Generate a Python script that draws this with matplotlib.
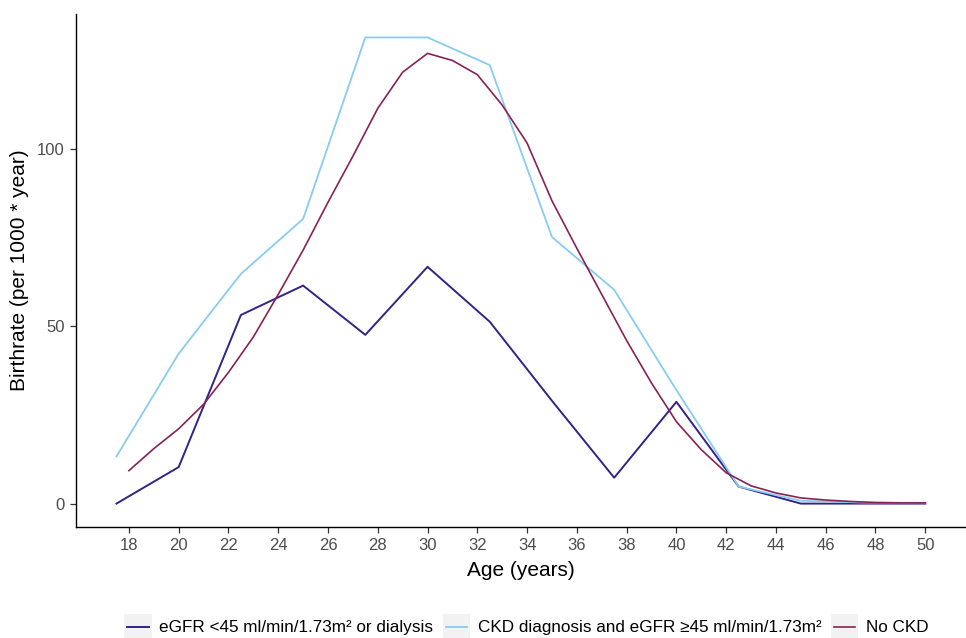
import matplotlib
matplotlib.use("Agg")
from matplotlib import pyplot as plt
from matplotlib.patches import Rectangle
from matplotlib.lines import Line2D
from matplotlib.legend_handler import HandlerBase

plt.rcParams['font.family'] = ['Liberation Sans', 'DejaVu Sans']

# eGFR <45 or dialysis
age_low = [17.5, 20, 22.5, 25, 27.5, 30, 32.5, 35, 37.5, 40, 42.5, 45, 47.5, 50]
rate_low = [0, 10.3, 53.2, 61.5, 47.6, 66.8, 51.3, 29, 7.3, 28.7, 4.8, 0, 0, 0]

# CKD diagnosis and eGFR >=45
age_ckd = [17.5, 20, 22.5, 25, 27.5, 30, 32.5, 35, 37.5, 40, 42.5, 45, 47.5, 50]
rate_ckd = [13.3, 42.3, 64.8, 80.3, 131.5, 131.5, 123.7, 75.2, 60.3, 32, 4.8, 0.8, 0.3, 0.2]

# No CKD
age_no = list(range(18, 51))
rate_no = [9.3, 15.5, 21.1, 28, 37, 47, 59, 71.5, 85, 98, 111.5, 121.7, 127, 125,
           121, 112.4, 101.7, 85.4, 72, 59, 46, 34, 23.1, 15.2, 8.7, 5, 3, 1.6,
           1.0, 0.6, 0.3, 0.2, 0.2]

labels = ['eGFR <45 ml/min/1.73m² or dialysis',
          'CKD diagnosis and eGFR ≥45 ml/min/1.73m²',
          'No CKD']
colors = ['#332288', '#88CCEE', '#882255']
key_bg = '#F2F2F2'


class KeyHandler(HandlerBase):
    # grey ggplot-style key box with the line across its middle
    def create_artists(self, legend, orig_handle, xdescent, ydescent,
                       width, height, fontsize, trans):
        rect = Rectangle((-xdescent, -ydescent - 3), width, height + 6,
                         facecolor=key_bg, edgecolor='none', transform=trans)
        y = -ydescent + height / 2
        line = Line2D([-xdescent + 2, -xdescent + width - 2], [y, y],
                      color=orig_handle.get_color(),
                      lw=orig_handle.get_linewidth(), transform=trans)
        return [rect, line]


fig = plt.figure(figsize=(9.66, 6.38), dpi=100)
ax = fig.add_axes([0.0787, 0.174, 0.921, 0.804])

l1, = ax.plot(age_low, rate_low, color=colors[0], lw=1.4)
l2, = ax.plot(age_ckd, rate_ckd, color=colors[1], lw=1.3)
l3, = ax.plot(age_no, rate_no, color=colors[2], lw=1.2)

ax.set_xlim(15.875, 51.625)
ax.set_ylim(-6.6, 138.1)
ax.set_xticks(range(18, 51, 2))
ax.set_yticks([0, 50, 100])
ax.tick_params(labelsize=12, labelcolor='#4D4D4D', color='#333333', length=4.5, width=0.9)
for s in ['top', 'right']:
    ax.spines[s].set_visible(False)
for s in ['left', 'bottom']:
    ax.spines[s].set_linewidth(1.0)
ax.set_xlabel('Age (years)', fontsize=15, labelpad=6)
ax.set_ylabel('Birthrate (per 1000 * year)', fontsize=15, labelpad=6)

fig.legend([l1, l2, l3], labels, handler_map={Line2D: KeyHandler()},
           loc='lower center', bbox_to_anchor=(0.545, -0.02), ncol=3, frameon=False,
           fontsize=12.3, handlelength=1.6, handleheight=1.2, handletextpad=0.45,
           columnspacing=0.55)

fig.savefig('out.png', dpi=100)
